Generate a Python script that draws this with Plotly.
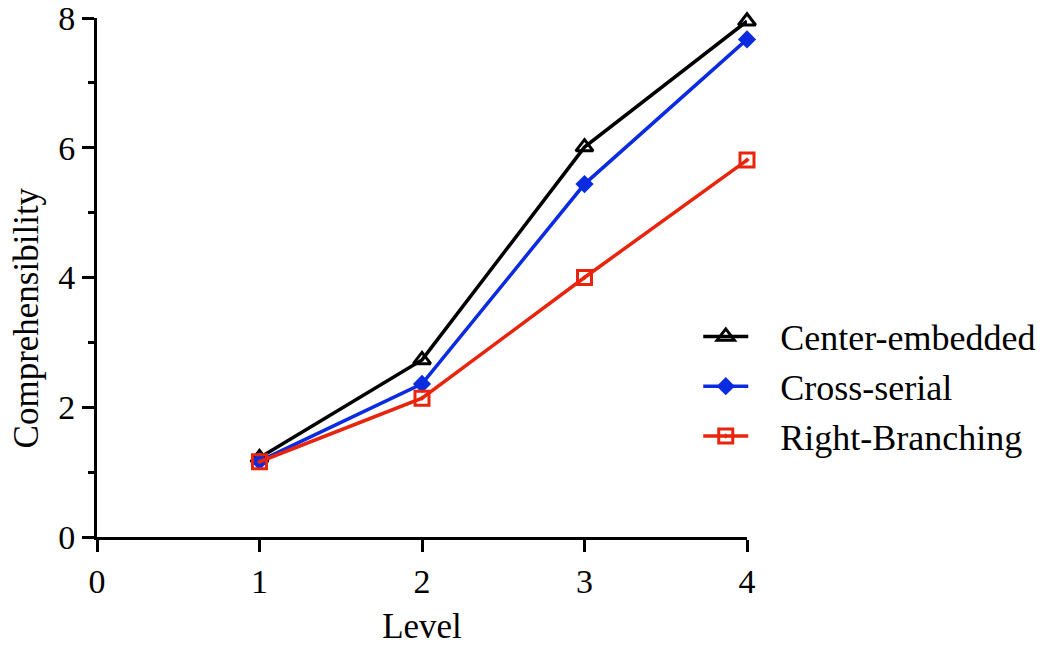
import plotly.graph_objects as go

levels = [1, 2, 3, 4]
center_embedded = [1.22, 2.73, 6.01, 7.95]
cross_serial = [1.17, 2.36, 5.44, 7.67]
right_branching = [1.16, 2.14, 4.00, 5.81]
names = ["Center-embedded", "Cross-serial", "Right-Branching"]

FONT = "Liberation Serif"
PAD = "\u00a0\u00a0\u00a0"

fig = go.Figure()
fig.add_trace(go.Scatter(x=levels, y=center_embedded, name=PAD + names[0], mode="lines+markers",
                         line=dict(color="black", width=3.5),
                         marker=dict(symbol="triangle-up-open", size=15, color="black", line=dict(width=3)),
                         cliponaxis=False))
fig.add_trace(go.Scatter(x=levels, y=cross_serial, name=PAD + names[1], mode="lines+markers",
                         line=dict(color="#0a2be0", width=3.5),
                         marker=dict(symbol="diamond", size=14, color="#0a2be0"),
                         cliponaxis=False))
fig.add_trace(go.Scatter(x=levels, y=right_branching, name=PAD + names[2], mode="lines+markers",
                         line=dict(color="#e8250c", width=3.5),
                         marker=dict(symbol="square-open-dot", size=14, color="#e8250c", line=dict(width=3)),
                         cliponaxis=False))

fig.update_layout(
    width=1043, height=638,
    margin=dict(l=89, r=302, t=10, b=109),
    paper_bgcolor="white", plot_bgcolor="white",
    font=dict(family=FONT, size=34, color="black"),
    showlegend=True,
    legend=dict(x=0.925, y=0.29, xanchor="left", yanchor="middle", font=dict(size=36, family=FONT),
                bgcolor="rgba(0,0,0,0)", itemwidth=45, tracegroupgap=0),
    xaxis=dict(range=[0, 4], tickvals=[0, 1, 2, 3, 4], showline=True, linecolor="black", linewidth=3,
               ticks="outside", ticklen=12, tickwidth=3, tickcolor="black", showgrid=False, zeroline=False,
               automargin=False, ticklabeloverflow="allow", tickfont=dict(size=34, family=FONT),
               title=dict(text="Level", font=dict(size=35, family=FONT), standoff=16)),
    yaxis=dict(range=[0, 8], tickvals=[0, 2, 4, 6, 8], showline=True, linecolor="black", linewidth=3,
               ticks="outside", ticklen=12, tickwidth=3, tickcolor="black", showgrid=False, zeroline=False,
               automargin=False, ticklabeloverflow="allow", tickfont=dict(size=34, family=FONT),
               minor=dict(tickvals=[1, 3, 5, 7], ticks="outside", ticklen=6, tickwidth=3, tickcolor="black", showgrid=False)),
)
fig.add_annotation(text="Comprehensibility", textangle=-90, xref="paper", yref="paper",
                   x=-0.107, y=0.422, xanchor="center", yanchor="middle", showarrow=False,
                   font=dict(size=35, family=FONT))

fig.write_html("out.html")
